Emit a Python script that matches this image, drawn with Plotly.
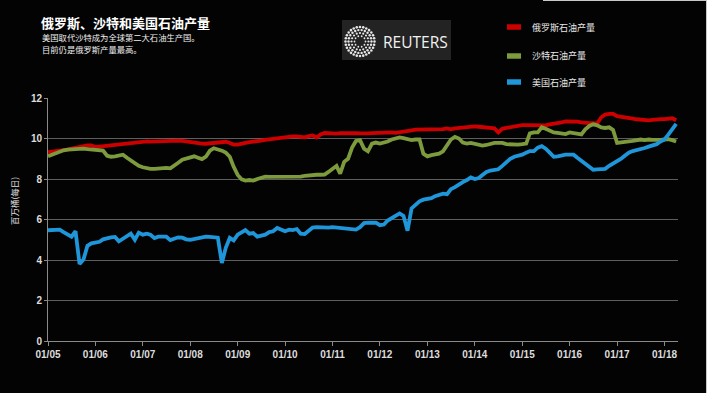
import math
import pandas as pd
import plotly.graph_objects as go

# ---- data (million barrels per day, monthly Jan 2005 - Apr 2018) ----
months = pd.date_range("2005-01-01", "2018-04-01", freq="MS")

russia = [
    9.33, 9.35, 9.38, 9.40, 9.43, 9.45, 9.50, 9.55, 9.58, 9.63, 9.66, 9.66,
    9.58, 9.60, 9.62, 9.63, 9.65, 9.68, 9.72, 9.75, 9.76, 9.78, 9.80, 9.83,
    9.86, 9.86, 9.85, 9.86, 9.88, 9.88, 9.90, 9.90, 9.92, 9.90, 9.88, 9.85,
    9.80, 9.78, 9.76, 9.75, 9.74, 9.76, 9.78, 9.80, 9.82, 9.84, 9.78, 9.70,
    9.70, 9.72, 9.78, 9.82, 9.86, 9.88, 9.90, 9.93, 9.96, 10.00, 10.03, 10.05,
    10.06, 10.08, 10.10, 10.10, 10.08, 10.06, 10.12, 10.15, 10.05, 10.20, 10.27, 10.25,
    10.22, 10.24, 10.26, 10.27, 10.24, 10.25, 10.27, 10.25, 10.23, 10.25, 10.27, 10.28,
    10.31, 10.32, 10.31, 10.30, 10.28, 10.30, 10.33, 10.36, 10.40, 10.44, 10.44, 10.43,
    10.43, 10.43, 10.43, 10.44, 10.46, 10.50, 10.45, 10.50, 10.52, 10.55, 10.58, 10.60,
    10.60, 10.58, 10.56, 10.54, 10.52, 10.50, 10.30, 10.48, 10.52, 10.56, 10.58, 10.62,
    10.66, 10.66, 10.66, 10.65, 10.62, 10.62, 10.65, 10.70, 10.72, 10.76, 10.80, 10.84,
    10.84, 10.85, 10.83, 10.80, 10.77, 10.76, 10.76, 10.75, 11.05, 11.18, 11.22, 11.22,
    11.10, 11.08, 11.05, 11.02, 10.98, 10.95, 10.92, 10.90, 10.90, 10.92, 10.95, 10.96,
    10.96, 10.96, 11.00, 10.90,
]

saudi = [
    9.12, 9.20, 9.28, 9.35, 9.42, 9.45, 9.47, 9.48, 9.50, 9.50, 9.48, 9.45,
    9.42, 9.42, 9.40, 9.15, 9.10, 9.12, 9.18, 9.20, 9.05, 8.90, 8.75, 8.65,
    8.58, 8.52, 8.50, 8.50, 8.52, 8.55, 8.55, 8.53, 8.65, 8.80, 8.95, 9.02,
    9.08, 9.12, 9.05, 8.98, 9.10, 9.40, 9.52, 9.48, 9.40, 9.30, 9.10, 8.60,
    8.20, 7.98, 7.92, 7.95, 7.92, 8.00, 8.08, 8.12, 8.10, 8.10, 8.10, 8.12,
    8.13, 8.12, 8.10, 8.10, 8.12, 8.15, 8.18, 8.20, 8.21, 8.21, 8.22, 8.35,
    8.48, 8.65, 8.26, 8.85, 9.00, 9.55, 9.88, 9.92, 9.50, 9.37, 9.75, 9.80,
    9.75, 9.78, 9.85, 9.95, 10.00, 10.05, 10.02, 9.95, 9.92, 9.95, 9.95, 9.25,
    9.12, 9.18, 9.20, 9.25, 9.37, 9.70, 9.95, 10.08, 10.00, 9.80, 9.75, 9.78,
    9.75, 9.72, 9.65, 9.68, 9.75, 9.78, 9.78, 9.78, 9.72, 9.70, 9.68, 9.70,
    9.72, 9.75, 10.25, 10.30, 10.30, 10.55, 10.48, 10.40, 10.30, 10.28, 10.25, 10.22,
    10.30, 10.25, 10.22, 10.20, 10.45, 10.62, 10.70, 10.65, 10.55, 10.52, 10.55, 10.42,
    9.78, 9.82, 9.85, 9.86, 9.88, 9.90, 9.95, 9.92, 9.95, 9.93, 9.92, 9.93,
    9.95, 9.97, 9.92, 9.85,
]

usa = [
    5.47, 5.48, 5.46, 5.50, 5.38, 5.25, 5.15, 5.42, 3.80, 4.02, 4.70, 4.82,
    4.84, 4.90, 5.02, 5.08, 5.12, 5.14, 4.92, 5.05, 5.15, 5.30, 5.00, 5.35,
    5.25, 5.30, 5.25, 5.08, 5.15, 5.17, 5.15, 4.98, 5.05, 5.12, 5.10, 5.02,
    5.00, 5.05, 5.08, 5.10, 5.15, 5.14, 5.14, 5.10, 3.85, 4.60, 5.09, 4.97,
    5.25, 5.40, 5.48, 5.30, 5.33, 5.15, 5.22, 5.25, 5.38, 5.42, 5.58, 5.50,
    5.42, 5.50, 5.48, 5.53, 5.30, 5.28, 5.45, 5.60, 5.62, 5.60, 5.62, 5.60,
    5.62, 5.60, 5.58, 5.58, 5.58, 5.55, 5.50, 5.62, 5.82, 5.85, 5.86, 5.84,
    5.72, 5.75, 5.95, 6.07, 6.18, 6.30, 6.18, 5.45, 6.55, 6.75, 6.90, 6.98,
    7.00, 7.05, 7.15, 7.20, 7.28, 7.25, 7.50, 7.60, 7.75, 7.85, 7.95, 8.08,
    8.00, 8.05, 8.20, 8.35, 8.42, 8.45, 8.48, 8.65, 8.85, 9.00, 9.10, 9.15,
    9.20, 9.30, 9.38, 9.38, 9.55, 9.62, 9.50, 9.30, 9.10, 9.12, 9.18, 9.20,
    9.20, 9.20, 9.05, 8.90, 8.75, 8.60, 8.46, 8.48, 8.48, 8.50, 8.65, 8.75,
    8.90, 9.00, 9.15, 9.30, 9.38, 9.42, 9.50, 9.53, 9.60, 9.65, 9.72, 9.85,
    9.95, 10.20, 10.45, 10.72,
]

series_names = ["俄罗斯石油产量", "沙特石油产量", "美国石油产量"]
series_values = [russia, saudi, usa]
series_colors = ["#cc0000", "#7d9a3c", "#1f96d9"]

year_ticks = pd.date_range("2005-01-01", "2018-01-01", freq="YS")
year_labels = [d.strftime("%m/%y") for d in year_ticks]
y_ticks = [0, 2, 4, 6, 8, 10, 12]

# ---- figure ----
W, H = 707, 393
L, R, T, B = 48, 29, 98, 52
PW, PH = W - L - R, H - T - B


def px_x(x):
    return (x - L) / PW


def px_y(y):
    return (H - B - y) / PH


fig = go.Figure()
for name, vals, col in zip(series_names, series_values, series_colors):
    fig.add_trace(go.Scatter(
        x=months, y=vals, mode="lines", name=name,
        line=dict(color=col, width=3.8), showlegend=False,
    ))

shapes = []
annotations = []

# manual legend
leg_y = [27, 56, 82]
for name, col, yy in zip(series_names, series_colors, leg_y):
    shapes.append(dict(type="line", xref="paper", yref="paper",
                       x0=px_x(507), x1=px_x(521), y0=px_y(yy), y1=px_y(yy),
                       line=dict(color=col, width=5.5)))
    annotations.append(dict(x=px_x(530), y=px_y(yy), xref="paper", yref="paper",
                            text=name, showarrow=False, xanchor="left", yanchor="middle",
                            font=dict(size=9, color="#e8e8e8",
                                      family="Noto Sans CJK SC")))

# Reuters logo block
shapes.append(dict(type="rect", xref="paper", yref="paper",
                   x0=px_x(342), x1=px_x(451), y0=px_y(20), y1=px_y(60),
                   fillcolor="#232323", line=dict(width=0), layer="below"))
cx, cy = 360, 41.5
for r, n, s in [(5.5, 10, 0.9), (8.5, 16, 1.1), (11.5, 22, 1.2), (14.5, 28, 1.3)]:
    for k in range(n):
        a = 2 * math.pi * k / n
        shapes.append(dict(type="circle", xref="paper", yref="paper",
                           xsizemode="pixel", ysizemode="pixel",
                           xanchor=px_x(cx + r * math.cos(a)),
                           yanchor=px_y(cy + r * math.sin(a)),
                           x0=-s, x1=s, y0=-s, y1=s,
                           fillcolor="#e6e6e6", line=dict(width=0)))
annotations.append(dict(x=px_x(415), y=px_y(42), xref="paper", yref="paper",
                        text="REUTERS", showarrow=False, xanchor="center", yanchor="middle",
                        font=dict(size=15.5, color="#f2f2f2", family="Open Sans")))

# titles
annotations.append(dict(x=px_x(39), y=px_y(22.5), xref="paper", yref="paper",
                        text="<b>俄罗斯、沙特和美国石油产量</b>", showarrow=False,
                        xanchor="left", yanchor="middle",
                        font=dict(size=13, color="#ffffff", family="Noto Sans CJK SC")))
for txt, yy in [("美国取代沙特成为全球第二大石油生产国。", 36.5), ("目前仍是俄罗斯产量最高。", 49)]:
    annotations.append(dict(x=px_x(40), y=px_y(yy), xref="paper", yref="paper",
                            text=txt, showarrow=False, xanchor="left", yanchor="middle",
                            font=dict(size=8.3, color="#f0f0f0", family="Noto Sans CJK SC")))

# y axis title
annotations.append(dict(x=px_x(14), y=px_y(201), xref="paper", yref="paper",
                        text="百万桶(每日)", showarrow=False, textangle=-90,
                        xanchor="center", yanchor="middle",
                        font=dict(size=8.5, color="#e0e0e0", family="Noto Sans CJK SC")))

# thin edge lines (top-right and right)
shapes.append(dict(type="line", xref="paper", yref="paper",
                   x0=px_x(543), x1=px_x(707), y0=px_y(0.5), y1=px_y(0.5),
                   line=dict(color="#c8c8c8", width=1)))
shapes.append(dict(type="line", xref="paper", yref="paper",
                   x0=px_x(706.5), x1=px_x(706.5), y0=px_y(0), y1=px_y(393),
                   line=dict(color="#c8c8c8", width=1)))

fig.update_layout(
    width=W, height=H,
    margin=dict(l=L, r=R, t=T, b=B),
    paper_bgcolor="#030303", plot_bgcolor="#030303",
    shapes=shapes, annotations=annotations,
    font=dict(family="Liberation Sans", color="#dddddd"),
)
fig.update_xaxes(
    type="date", range=["2005-01-01", "2018-04-15"],
    tickvals=list(year_ticks), ticktext=[f"<b>{t}</b>" for t in year_labels],
    tickfont=dict(size=10, color="#dddddd", family="Liberation Sans"),
    showgrid=False, showline=True, linecolor="#8a8a8a", linewidth=1,
    ticks="outside", ticklen=4, tickcolor="#8a8a8a", zeroline=False,
)
fig.update_yaxes(
    range=[0, 12], tickvals=y_ticks, ticktext=[f"<b>{v}</b>" for v in y_ticks],
    tickfont=dict(size=10, color="#dddddd", family="Liberation Sans"),
    showgrid=True, gridcolor="#5e5e5e", gridwidth=1,
    showline=True, linecolor="#8a8a8a", linewidth=1,
    ticks="outside", ticklen=3, tickcolor="#8a8a8a", zeroline=False,
)

fig.write_html(
    "out.html",
    config={"displayModeBar": False},
    post_script="document.body.style.margin='0';document.body.style.background='#030303';"
                "document.documentElement.style.background='#030303';",
)
